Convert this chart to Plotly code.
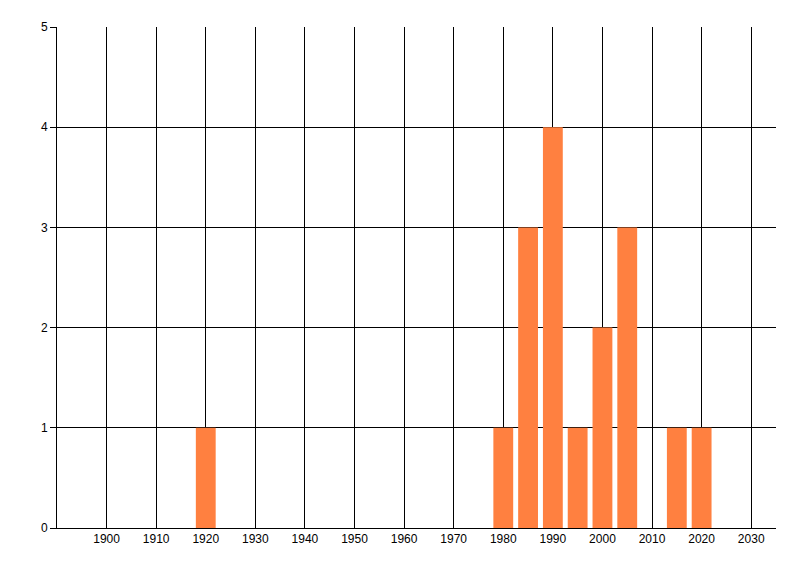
import plotly.graph_objects as go

years = [1920, 1980, 1985, 1990, 1995, 2000, 2005, 2015, 2020]
counts = [1, 1, 3, 4, 1, 2, 3, 1, 1]
x_ticks = list(range(1900, 2031, 10))

BAR_COLOR = "#FF8040"
GRID_COLOR = "black"

# page body adds an 8px offset, so margins are trimmed to land the plot area
fig = go.Figure(
    data=[
        go.Bar(
            x=years,
            y=counts,
            width=4,
            marker=dict(color=BAR_COLOR, line=dict(width=0)),
        )
    ],
    layout=go.Layout(
        width=800,
        height=576,
        paper_bgcolor="white",
        plot_bgcolor="white",
        margin=dict(l=49, r=32, t=19, b=56),
        showlegend=False,
        font=dict(family="Liberation Sans", size=12, color="black"),
        xaxis={
            "range": [1890, 2035],
            "tickvals": x_ticks,
            "ticktext": [str(t) for t in x_ticks],
            "showgrid": True,
            "gridcolor": GRID_COLOR,
            "gridwidth": 1,
            "zeroline": False,
            "showline": True,
            "linecolor": "black",
            "linewidth": 1,
            "ticks": "",
        },
        yaxis={
            "range": [0, 5],
            "dtick": 1,
            "showgrid": True,
            "gridcolor": GRID_COLOR,
            "gridwidth": 1,
            "zeroline": False,
            "showline": True,
            "linecolor": "black",
            "linewidth": 1,
            "ticks": "outside",
            "ticklen": 6,
            "tickcolor": "black",
        },
    ),
)

fig.write_html("out.html")
